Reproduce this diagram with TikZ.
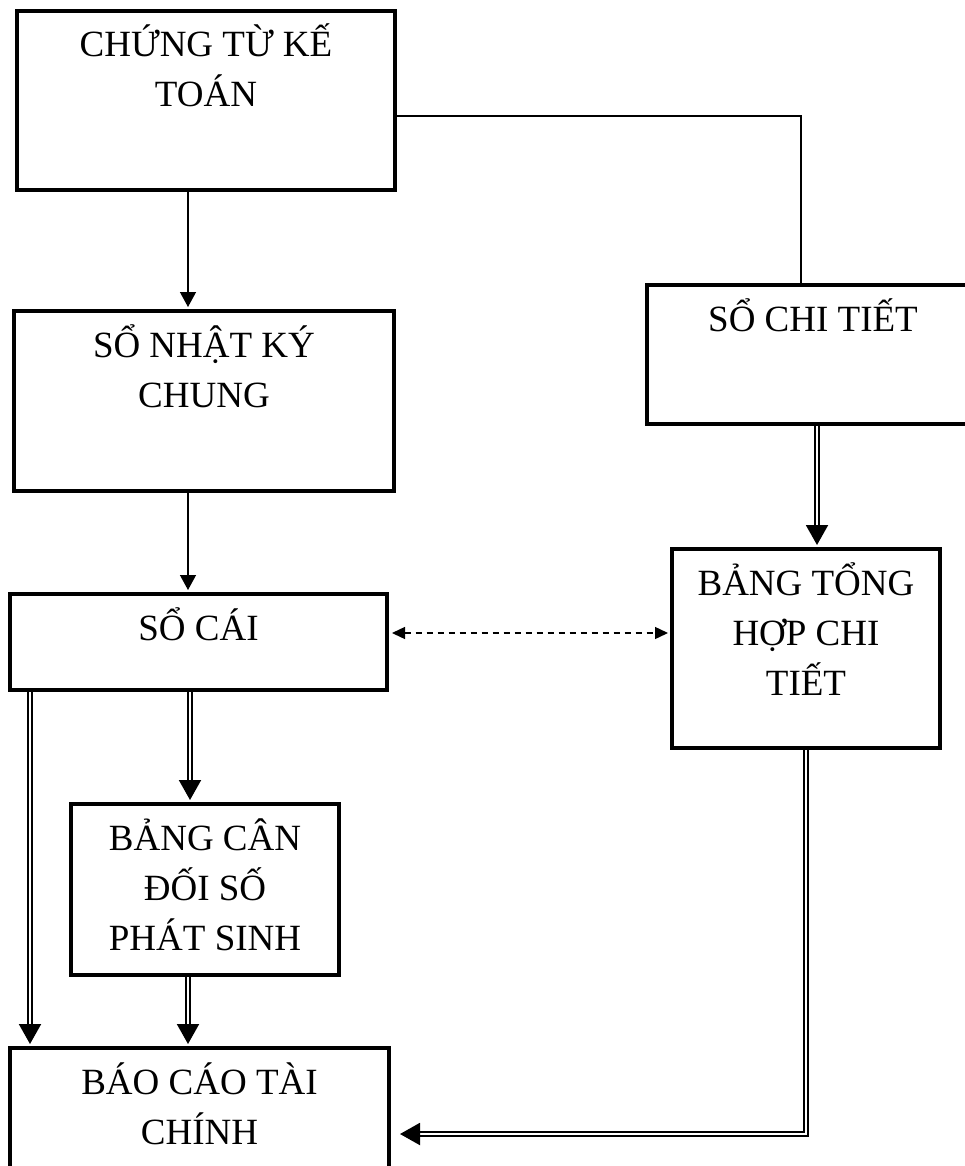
\documentclass[tikz,border=0pt]{standalone}
\usepackage{fontspec}
\setmainfont{Liberation Serif}
\usepackage{tikz}
\usetikzlibrary{positioning}
\usetikzlibrary{arrows.meta}
\newcommand{\chu}{\fontsize{37pt}{50pt}\selectfont}
\newcommand{\oChu}[3]{\parbox[c][#2][t]{#1}{\centering\rule{0pt}{46pt}#3}}
\tikzset{%
  motmui/.style = {-{Triangle[length=15pt,width=16pt]},line width=1.3pt,
        shorten >=2pt},
  haimui/.style = {-{Triangle[length=20pt,width=22pt]},double,
        double distance=2.3pt,line width=2pt,shorten >=2pt},
  doidau/.style = {{Triangle[length=13pt,width=12pt]}-{Triangle[length=13pt,width=12pt]},
        dash pattern=on 6pt off 5pt,line width=1.4pt,
        shorten <=3pt,shorten >=2pt},
  lienket/.style = {line width=1.3pt},
  hop/.style = {rectangle,draw,line width=4pt,inner sep=0pt,font=\chu}
}

\begin{document}
\begin{tikzpicture}[x=1pt,y=-1pt]
                    \useasboundingbox (0,0) rectangle (965,1166);
                    \node[hop] (chungtu) at (206,100.5) {\oChu{378pt}{179pt}{CHỨNG TỪ KẾ\\TOÁN}};
                    \node[hop] (sonkc) [below=117pt of chungtu,xshift=-2pt] {\oChu{380pt}{180pt}{SỔ NHẬT KÝ\\CHUNG}};
                    \node[hop] (socai) [below=99pt of sonkc,xshift=-5.5pt] {\oChu{377pt}{96pt}{SỔ CÁI}};
                    \node[hop] (bangcan) [below=110pt of socai,xshift=6.5pt] {\oChu{268pt}{171pt}{BẢNG CÂN\\ĐỐI SỐ\\PHÁT SINH}};
                    \node[hop] (baocao) [below=69pt of bangcan,xshift=-5.5pt] {\oChu{379pt}{148pt}{BÁO CÁO TÀI\\CHÍNH}};
                    \node[hop] (bangtong) [right=281pt of socai,yshift=-6.5pt] {\oChu{268pt}{199pt}{BẢNG TỔNG\\HỢP CHI\\TIẾT}};
                    \node[hop] (sochitiet) [above=121pt of bangtong,xshift=7pt] {\oChu{332pt}{139pt}{SỔ CHI TIẾT}};

                    \draw[motmui] ([xshift=-18pt]chungtu.south) -- ([xshift=-18pt]chungtu.south |- sonkc.north);
                    \draw[motmui] ([xshift=-16pt]sonkc.south) -- ([xshift=-16pt]sonkc.south |- socai.north);
                    \draw[lienket] ([yshift=-15.5pt]chungtu.east) -| ([xshift=-12pt]sochitiet.north);

                    \draw[haimui] ([xshift=4pt]sochitiet.south) -- ([xshift=4pt]sochitiet.south |- bangtong.north);
                    \draw[doidau] ([yshift=9pt]socai.east) -- ([yshift=9pt]socai.east -| bangtong.west);
                    \draw[haimui] ([xshift=-8.5pt]socai.south) -- ([xshift=-8.5pt]socai.south |- bangcan.north);
                    \draw[haimui] ([xshift=22pt]socai.south west) -- ([xshift=22pt]socai.south west |- baocao.north);
                    \draw[haimui] ([xshift=-17pt]bangcan.south) -- ([xshift=-17pt]bangcan.south |- baocao.north);
                    \draw[haimui,shorten >=9pt] (bangtong.south) |- ([yshift=-12pt]baocao.east);
                 \end{tikzpicture}
\end{document}
